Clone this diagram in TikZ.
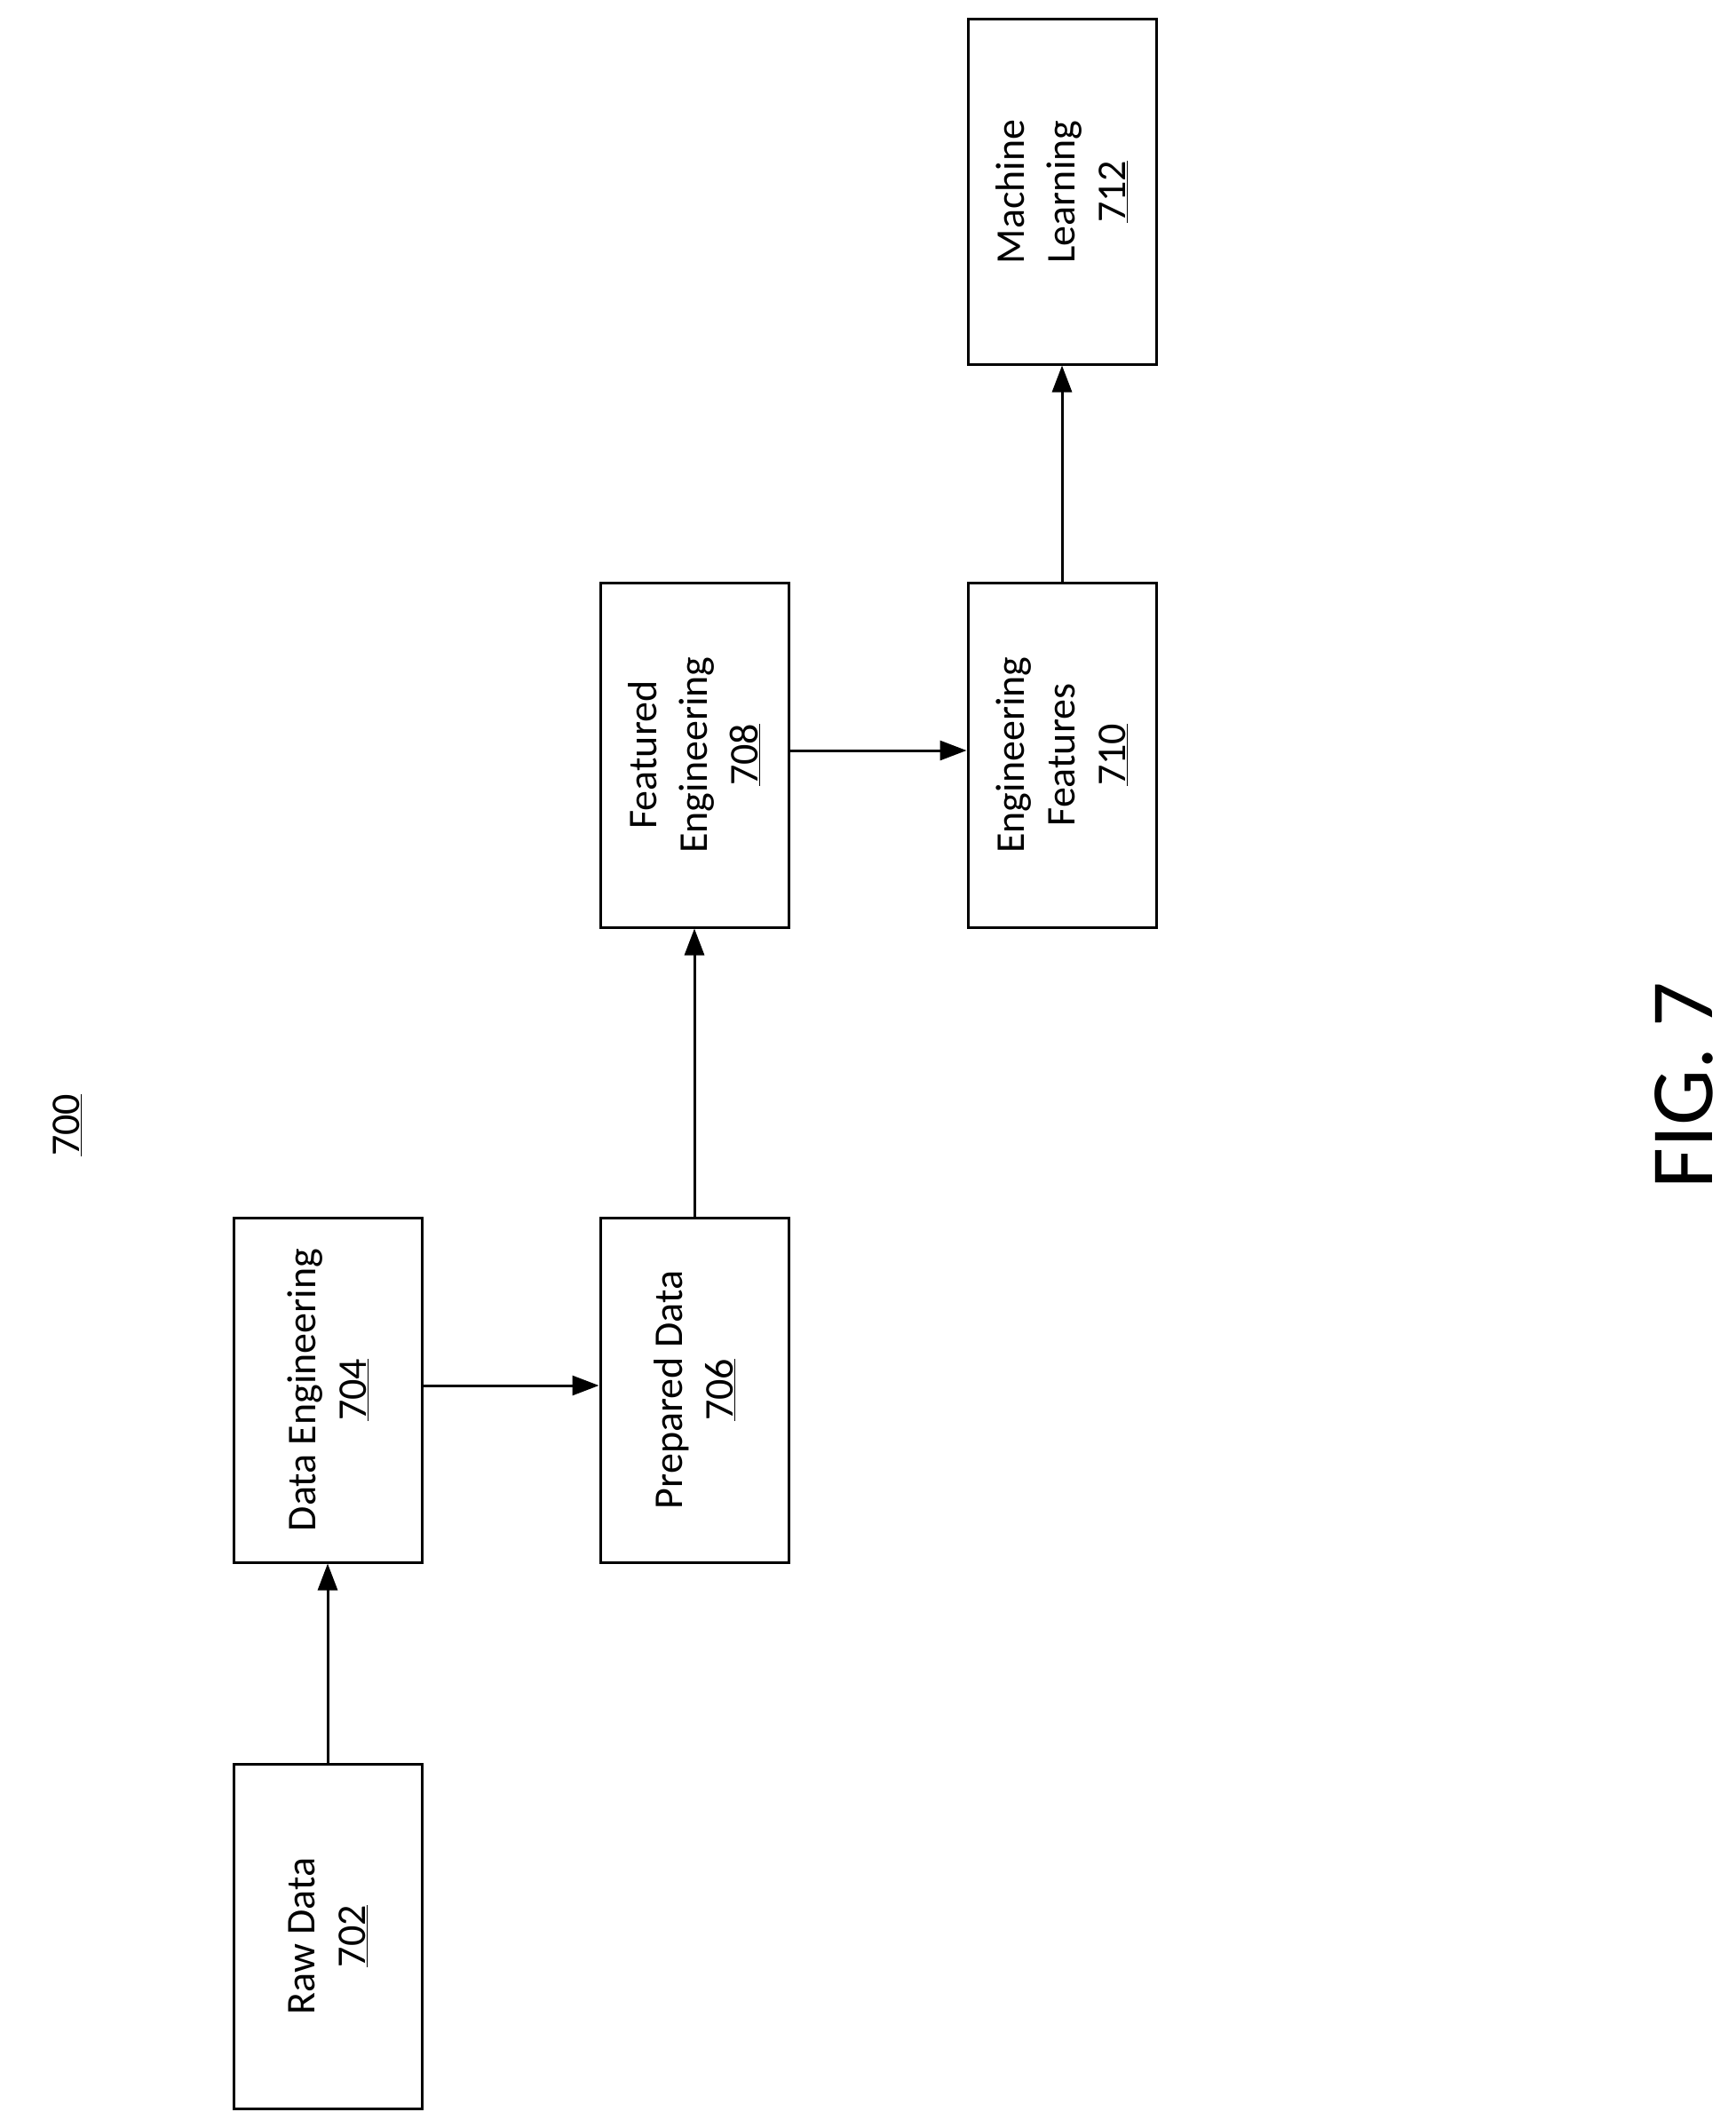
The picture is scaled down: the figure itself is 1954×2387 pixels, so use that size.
\documentclass[tikz,border=0pt]{standalone}
\usepackage{fontspec}
\setmainfont{Carlito}
\usetikzlibrary{arrows.meta}
\begin{document}
\begin{tikzpicture}[x=1pt,y=-1pt,
  box/.style={draw,line width=3pt,minimum width=212pt,minimum height=388pt,inner sep=0pt},
  lbl/.style={rotate=90,align=center,font=\fontsize{46}{57}\selectfont},
  arr/.style={line width=3pt,-{Triangle[length=30pt,width=22pt]}}]
\useasboundingbox (0,0) rectangle (1954,2387);
\node[box] (b702) at (369,2180) {};
\node[box] (b704) at (369,1565) {};
\node[box] (b706) at (782,1565) {};
\node[box] (b708) at (782,850) {};
\node[box] (b710) at (1196,850) {};
\node[box] (b712) at (1196,216) {};
\node[lbl] (t702) at (369,2180) {Raw Data\\\underline{702}};
\node[lbl] (t704) at (369,1565) {Data Engineering\\\underline{704}};
\node[lbl] (t706) at (782,1565) {Prepared Data\\\underline{706}};
\node[lbl] (t708) at (782,850) {Featured\\Engineering\\\underline{708}};
\node[lbl] (t710) at (1196,850) {Engineering\\Features\\\underline{710}};
\node[lbl] (t712) at (1196,216) {Machine\\Learning\\\underline{712}};
\node[lbl] (n700) at (76,1267) {\underline{700}};
\node[rotate=90,font=\fontsize{100}{110}\selectfont,inner sep=0pt] (fig) at (1896,1222) {FIG. 7};
\draw[arr] ([yshift=5pt]b704.east) -- ([yshift=5pt]b706.west);
\draw[arr] (b702.north) -- (b704.south);
\draw[arr] (b706.north) -- (b708.south);
\draw[arr] ([yshift=5pt]b708.east) -- ([yshift=5pt]b710.west);
\draw[arr] (b710.north) -- (b712.south);
\end{tikzpicture}
\end{document}
